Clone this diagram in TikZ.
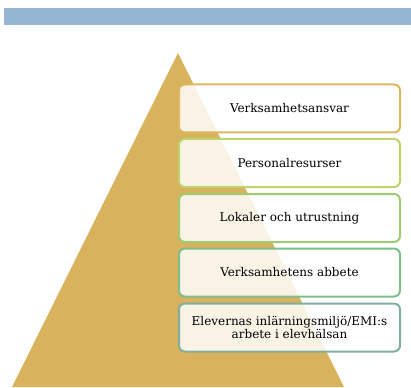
\documentclass[tikz,border=0pt]{standalone}
\usepackage{fontspec}
\setmainfont{DejaVu Serif}
\usepackage{tikz}

\definecolor{barblue}{HTML}{94B6D2}
\definecolor{pyrgold}{HTML}{D8B25C}
\definecolor{lvlA}{HTML}{DDB862}
\definecolor{lvlB}{HTML}{BCD46C}
\definecolor{lvlC}{HTML}{9FCB72}
\definecolor{lvlD}{HTML}{7DBE8A}
\definecolor{lvlE}{HTML}{80AFA0}

\begin{document}
\begin{tikzpicture}[x=1pt,y=-1pt,
    level/.style={draw,line width=2pt,rounded corners=6pt,
      fill=white,fill opacity=0.85,text opacity=1,
      minimum width=221pt,minimum height=48pt,align=center,
      font=\fontsize{12}{13}\selectfont}]
  \useasboundingbox (0,0) rectangle (411,387);
  % band and pyramid
  \fill[barblue] (4,8) rectangle (411,25);
  \fill[pyrgold] (178,53) -- (344,387) -- (12,387) -- cycle;
  % levels
  \node[level,draw=lvlA] (L-1) at (289.5,108.5) {Verksamhetsansvar};
  \node[level,draw=lvlB] (L-2) at (289.5,163) {Personalresurser};
  \node[level,draw=lvlC] (L-3) at (289.5,218) {Lokaler och utrustning};
  \node[level,draw=lvlD] (L-4) at (289.5,272.5) {Verksamhetens abbete};
  \node[level,draw=lvlE] (L-5) at (289.5,327.5) {Elevernas inlärningsmiljö/EMI:s\\arbete i elevhälsan};
\end{tikzpicture}
\end{document}
